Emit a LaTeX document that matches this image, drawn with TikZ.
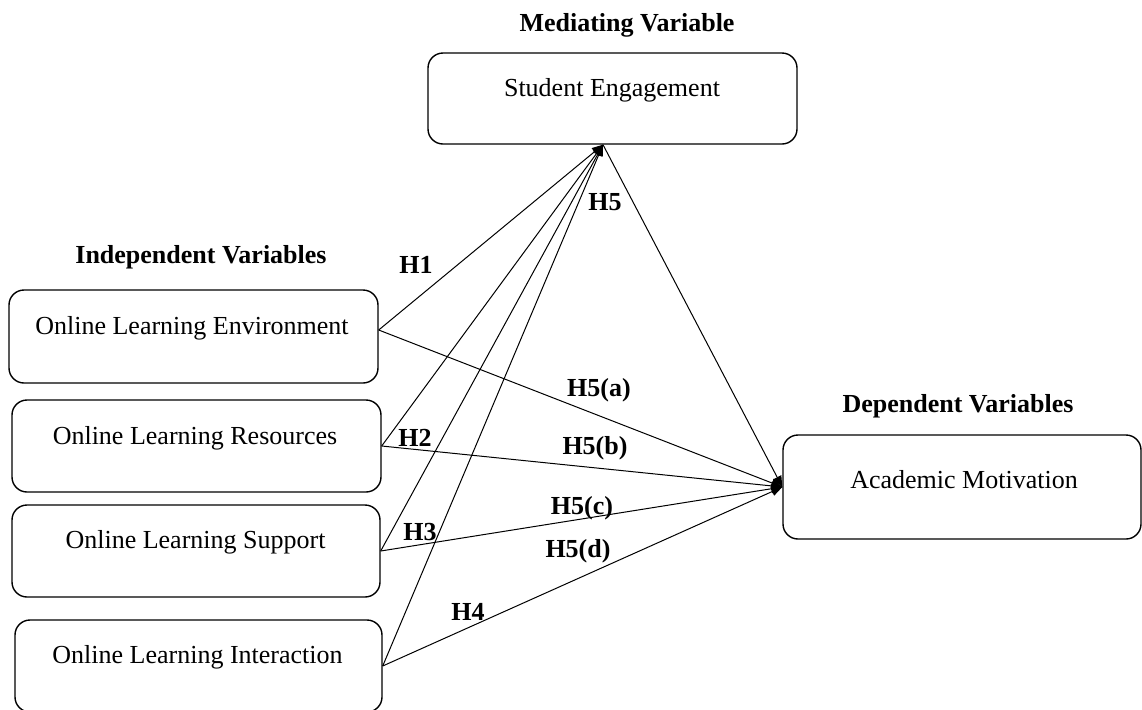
\documentclass[tikz,border=0pt]{standalone}
\usepackage{fontspec}
\setmainfont{Liberation Serif}
\usetikzlibrary{arrows.meta}
\begin{document}
\begin{tikzpicture}[x=0.5pt,y=-0.5pt,
  box/.style={draw, line width=0.7pt, rounded corners=7.5pt, inner sep=0pt},
  txt/.style={inner sep=0pt, font=\fontsize{13}{15}\selectfont},
  head/.style={inner sep=0pt, font=\fontsize{13}{15}\selectfont\bfseries},
  hyp/.style={inner sep=0pt, font=\fontsize{13}{15}\selectfont\bfseries},
  link/.style={line width=0.5pt, -{Triangle[length=5.5pt,width=4.5pt]}}]
\useasboundingbox (0,0) rectangle (1142,709);
% boxes
\node[box, minimum width=184.5pt, minimum height=45.5pt] (se) at (612.5,98.5) {};
\node[box, minimum width=184.5pt, minimum height=46.5pt] (env) at (193.5,336.5) {};
\node[box, minimum width=184.5pt, minimum height=46pt] (res) at (196.5,446) {};
\node[box, minimum width=184pt, minimum height=46pt] (sup) at (196,551) {};
\node[box, minimum width=183.5pt, minimum height=46pt] (int) at (198.5,666) {};
\node[box, minimum width=179pt, minimum height=52pt] (am) at (962,487) {};
% box texts
\node[txt] (set) at (612,90) {Student Engagement};
\node[txt] (envt) at (192,328) {Online Learning Environment};
\node[txt] (rest) at (195,438) {Online Learning Resources};
\node[txt] (supt) at (195.5,542) {Online Learning Support};
\node[txt] (intt) at (197.5,657) {Online Learning Interaction};
\node[txt] (amt) at (964,480) {Academic Motivation};
% headings
\node[head] (hm) at (627,25) {Mediating Variable};
\node[head] (hi) at (201,257) {Independent Variables};
\node[head] (hd) at (958,406) {Dependent Variables};
% connection points
\coordinate (seT) at ([xshift=-4.75pt]se.south);
\coordinate (amT) at (am.west);
\coordinate (envS) at ([yshift=3.25pt]env.east);
% connectors
\draw[link] (envS) -- (seT);
\draw[link] (envS) -- (amT);
\draw[link] (res.east) -- (seT);
\draw[link] (res.east) -- (amT);
\draw[link] (sup.east) -- (seT);
\draw[link] (sup.east) -- (amT);
\draw[link] (int.east) -- (seT);
\draw[link] (int.east) -- (amT);
\draw[link] (seT) -- (amT);
% hypothesis labels
\node[hyp] (h1) at (416,265) {H1};
\node[hyp] (h5) at (605,202) {H5};
\node[hyp] (h5a) at (599,390) {H5(a)};
\node[hyp] (h2) at (415,438) {H2};
\node[hyp] (h5b) at (595,448) {H5(b)};
\node[hyp] (h5c) at (582,508) {H5(c)};
\node[hyp] (h3) at (420,532) {H3};
\node[hyp] (h5d) at (578,551) {H5(d)};
\node[hyp] (h4) at (468,612) {H4};
\end{tikzpicture}
\end{document}
